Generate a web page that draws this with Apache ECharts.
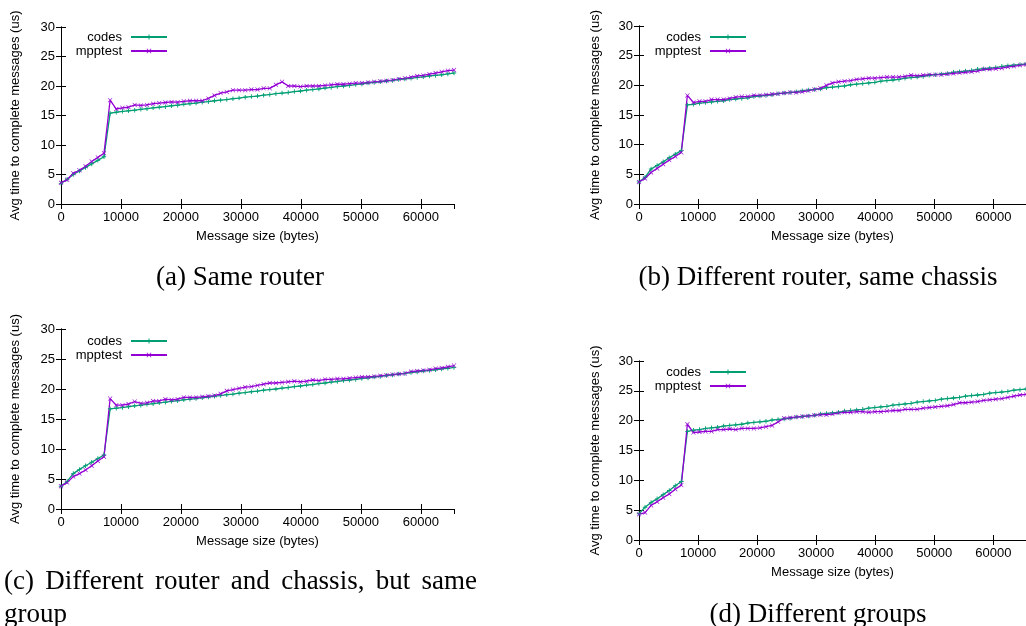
<!DOCTYPE html>
<html>
<head>
<meta charset="utf-8">
<script src="https://cdn.jsdelivr.net/npm/echarts@6/dist/echarts.min.js"></script>
<style>
html, body { margin: 0; padding: 0; background: #fff; }
#main { width: 1026px; height: 626px; }
</style>
</head>
<body>
<div id="main"></div>
<script>
// message sizes in bytes (x values)
var sizes = [0, 1024, 2048, 3072, 4096, 5120, 6144, 7168, 8192, 9216, 10240, 11264, 12288, 13312, 14336, 15360,
  16384, 17408, 18432, 19456, 20480, 21504, 22528, 23552, 24576, 25600, 26624, 27648, 28672, 29696, 30720, 31744,
  32768, 33792, 34816, 35840, 36864, 37888, 38912, 39936, 40960, 41984, 43008, 44032, 45056, 46080, 47104, 48128,
  49152, 50176, 51200, 52224, 53248, 54272, 55296, 56320, 57344, 58368, 59392, 60416, 61440, 62464, 63488, 64512,
  65536];

// (a) Same router
var codesA = [3.5, 4.2, 5.0, 5.6, 6.2, 6.8, 7.4, 8.0, 15.4,
  15.55, 15.7, 15.8, 15.9, 16.05, 16.15, 16.3, 16.4, 16.5, 16.65,
  16.75, 16.9, 17.0, 17.1, 17.25, 17.35, 17.5, 17.6, 17.7, 17.85,
  17.95, 18.1, 18.2, 18.3, 18.45, 18.55, 18.7, 18.8, 18.9, 19.05,
  19.15, 19.3, 19.4, 19.5, 19.65, 19.75, 19.9, 20.0, 20.1, 20.25,
  20.35, 20.5, 20.6, 20.7, 20.85, 20.95, 21.1, 21.2, 21.3, 21.45,
  21.55, 21.7, 21.8, 21.9, 22.05, 22.2];
var mpptestA = [3.6, 4.1, 5.2, 5.7, 6.4, 7.2, 7.9, 8.6, 17.6,
  16.1, 16.3, 16.4, 16.8, 16.7, 16.8, 17.0, 17.1, 17.2, 17.3,
  17.25, 17.4, 17.5, 17.5, 17.5, 17.9, 18.4, 18.8, 19.0, 19.3,
  19.3, 19.3, 19.4, 19.4, 19.6, 19.6, 20.2, 20.7, 20.0, 20.0,
  19.9, 20.0, 20.0, 20.0, 20.1, 20.2, 20.3, 20.3, 20.4, 20.5,
  20.5, 20.6, 20.7, 20.8, 20.9, 21.0, 21.2, 21.3, 21.5, 21.7,
  21.8, 22.0, 22.2, 22.4, 22.6, 22.7];

// (b) Different router, same chassis
var codesB = [3.7, 4.5, 5.9, 6.5, 7.1, 7.8, 8.4, 9.0, 16.7,
  16.8, 17.0, 17.1, 17.2, 17.3, 17.4, 17.6, 17.7, 17.8, 17.9,
  18.1, 18.2, 18.3, 18.4, 18.6, 18.7, 18.8, 18.9, 19.1, 19.2,
  19.3, 19.4, 19.6, 19.7, 19.8, 19.9, 20.1, 20.2, 20.3, 20.4,
  20.5, 20.7, 20.8, 20.9, 21.0, 21.2, 21.3, 21.4, 21.5, 21.7,
  21.8, 21.9, 22.0, 22.2, 22.3, 22.4, 22.5, 22.7, 22.8, 22.9,
  23.0, 23.2, 23.3, 23.4, 23.5, 23.6];
var mpptestB = [3.7, 4.3, 5.3, 6.0, 6.7, 7.4, 8.0, 8.7, 18.3,
  17.1, 17.3, 17.3, 17.6, 17.6, 17.6, 17.8, 18.0, 18.1, 18.1,
  18.3, 18.3, 18.4, 18.5, 18.6, 18.7, 18.8, 18.8, 18.9, 19.1,
  19.3, 19.5, 20.0, 20.4, 20.6, 20.7, 20.8, 21.0, 21.1, 21.2,
  21.2, 21.3, 21.4, 21.4, 21.4, 21.5, 21.7, 21.6, 21.7, 21.8,
  21.8, 21.8, 21.9, 22.0, 22.1, 22.2, 22.3, 22.4, 22.7, 22.7,
  22.8, 22.9, 23.1, 23.2, 23.4, 23.5];

// (c) Different router and chassis, but same group
var codesC = [3.8, 4.6, 5.9, 6.6, 7.2, 7.8, 8.4, 9.0, 16.7,
  16.8, 16.9, 17.05, 17.2, 17.3, 17.45, 17.55, 17.7, 17.8, 17.95,
  18.05, 18.2, 18.3, 18.4, 18.55, 18.65, 18.8, 18.9, 19.05, 19.15,
  19.3, 19.4, 19.55, 19.65, 19.8, 19.9, 20.0, 20.15, 20.25, 20.4,
  20.5, 20.65, 20.75, 20.9, 21.0, 21.15, 21.25, 21.4, 21.5, 21.6,
  21.75, 21.85, 22.0, 22.1, 22.25, 22.35, 22.5, 22.6, 22.75, 22.85,
  23.0, 23.1, 23.2, 23.35, 23.45, 23.6];
var mpptestC = [3.8, 4.4, 5.4, 5.9, 6.5, 7.2, 8.0, 8.7, 18.4,
  17.3, 17.3, 17.5, 17.9, 17.6, 17.7, 18.0, 18.0, 18.3, 18.2,
  18.3, 18.6, 18.6, 18.6, 18.7, 18.8, 18.9, 19.2, 19.7, 19.9,
  20.1, 20.3, 20.4, 20.6, 20.8, 21.0, 21.0, 21.1, 21.2, 21.3,
  21.2, 21.3, 21.5, 21.4, 21.6, 21.6, 21.7, 21.7, 21.8, 21.9,
  22.0, 22.0, 22.1, 22.2, 22.3, 22.4, 22.5, 22.6, 22.9, 23.0,
  23.1, 23.2, 23.4, 23.5, 23.7, 23.9];

// (d) Different groups
var codesD = [4.4, 5.5, 6.3, 6.9, 7.6, 8.3, 9.1, 9.8, 18.2,
  18.4, 18.5, 18.7, 18.8, 18.9, 19.1, 19.2, 19.3, 19.4, 19.6,
  19.7, 19.8, 19.9, 20.1, 20.2, 20.3, 20.4, 20.6, 20.7, 20.8,
  20.9, 21.1, 21.2, 21.3, 21.4, 21.6, 21.7, 21.8, 21.9, 22.1,
  22.2, 22.3, 22.4, 22.6, 22.7, 22.8, 22.9, 23.1, 23.2, 23.3,
  23.4, 23.6, 23.7, 23.8, 23.9, 24.1, 24.2, 24.3, 24.4, 24.6,
  24.7, 24.8, 24.9, 25.1, 25.2, 25.3];
var mpptestD = [4.3, 4.6, 5.8, 6.4, 7.1, 7.7, 8.5, 9.2, 19.4,
  18.0, 18.1, 18.2, 18.2, 18.5, 18.5, 18.6, 18.5, 18.7, 18.7,
  18.7, 18.8, 19.0, 19.2, 19.8, 20.4, 20.5, 20.6, 20.7, 20.8,
  20.9, 21.0, 21.0, 21.1, 21.3, 21.4, 21.4, 21.5, 21.5, 21.4,
  21.5, 21.5, 21.6, 21.7, 21.7, 21.9, 21.9, 21.9, 22.1, 22.2,
  22.3, 22.4, 22.5, 22.7, 23.0, 23.0, 23.1, 23.2, 23.4, 23.5,
  23.6, 23.7, 23.9, 24.1, 24.3, 24.4];

var yTicks = [0, 5, 10, 15, 20, 25, 30];
var xTickStep = 10000;
var xMax = 65536;

var SANS = '"Liberation Sans", Arial, Helvetica, sans-serif';
var SERIF = '"Liberation Serif", "Times New Roman", serif';
var GREEN = '#009e73';
var PURPLE = '#9400d3';

var panels = [
  { codes: codesA, mpptest: mpptestA, left: 61, top: 27, height: 177, legendRight: 858, legendTop: 37, yGap: 39 },
  { codes: codesB, mpptest: mpptestB, left: 639, top: 26, height: 178, legendRight: 279, legendTop: 37, yGap: 37 },
  { codes: codesC, mpptest: mpptestC, left: 61, top: 329, height: 180, legendRight: 858, legendTop: 341, yGap: 39 },
  { codes: codesD, mpptest: mpptestD, left: 639, top: 361, height: 179, legendRight: 279, legendTop: 372, yGap: 37 }
];

var plusPath = 'path://M4,0h2v4h4v2h-4v4h-2v-4h-4v-2h4z';
var crossPath = 'path://M1,0L5,4L9,0L10,1L6,5L10,9L9,10L5,6L1,10L0,9L4,5L0,1z';

function pairs(vals) {
  return sizes.map(function (x, i) { return [x, vals[i]]; });
}

var axisLine = { show: true, lineStyle: { color: '#000', width: 1 } };
var axisTick = { show: true, inside: true, length: 5, lineStyle: { color: '#000', width: 1 } };
var labelStyle = { color: '#000', fontSize: 13, fontFamily: SANS };

var grids = [], xAxes = [], yAxes = [], series = [], legends = [];
panels.forEach(function (p, i) {
  grids.push({ left: p.left, top: p.top, width: 393, height: p.height });
  xAxes.push({
    gridIndex: i, type: 'value', min: 0, max: xMax, interval: xTickStep, position: 'bottom',
    name: 'Message size (bytes)', nameLocation: 'middle', nameGap: 26,
    nameTextStyle: labelStyle,
    axisLine: axisLine, axisTick: axisTick, splitLine: { show: false },
    axisLabel: Object.assign({ margin: 7, showMaxLabel: false,
      formatter: function (v) { return v % xTickStep === 0 ? String(v) : ''; } }, labelStyle)
  });
  xAxes.push({
    gridIndex: i, type: 'value', min: 0, max: xMax, interval: xTickStep, position: 'top',
    axisLine: axisLine, axisTick: axisTick, splitLine: { show: false }, axisLabel: { show: false }
  });
  yAxes.push({
    gridIndex: i, type: 'value', min: yTicks[0], max: yTicks[yTicks.length - 1], interval: 5, position: 'left',
    name: 'Avg time to complete messages (us)', nameLocation: 'middle', nameRotate: 90, nameGap: p.yGap,
    nameTextStyle: labelStyle,
    axisLine: axisLine, axisTick: axisTick, splitLine: { show: false },
    axisLabel: Object.assign({ margin: 6 }, labelStyle)
  });
  yAxes.push({
    gridIndex: i, type: 'value', min: yTicks[0], max: yTicks[yTicks.length - 1], interval: 5, position: 'right',
    axisLine: axisLine, axisTick: axisTick, splitLine: { show: false }, axisLabel: { show: false }
  });
  series.push({
    name: 'codes', type: 'line', xAxisIndex: 2 * i, yAxisIndex: 2 * i, data: pairs(p.codes),
    symbol: plusPath, symbolSize: 4.5, showSymbol: true,
    lineStyle: { color: GREEN, width: 1.3 }, itemStyle: { color: GREEN }
  });
  series.push({
    name: 'mpptest', type: 'line', xAxisIndex: 2 * i, yAxisIndex: 2 * i, data: pairs(p.mpptest),
    symbol: crossPath, symbolSize: 4.5, showSymbol: true,
    lineStyle: { color: PURPLE, width: 1.3 }, itemStyle: { color: PURPLE }
  });
  ['codes', 'mpptest'].forEach(function (n, k) {
    legends.push({
      data: [n], orient: 'horizontal', align: 'right', right: p.legendRight, top: p.legendTop - 7 + k * 14,
      itemWidth: 36, itemHeight: 6, padding: 0, selectedMode: false,
      textStyle: { color: '#000', fontSize: 13, fontFamily: SANS, lineHeight: 14, padding: [0, 4, 0, 0] }
    });
  });
});

// captions
var capFont = '27px ' + SERIF;
var graphics = [
  { type: 'text', x: 240, y: 278, style: { text: '(a) Same router', font: capFont, fill: '#000', align: 'center', verticalAlign: 'middle' } },
  { type: 'text', x: 818, y: 278, style: { text: '(b) Different router, same chassis', font: capFont, fill: '#000', align: 'center', verticalAlign: 'middle' } },
  { type: 'text', x: 4, y: 615, style: { text: 'group', font: capFont, fill: '#000', align: 'left', verticalAlign: 'middle' } },
  { type: 'text', x: 818, y: 615, style: { text: '(d) Different groups', font: capFont, fill: '#000', align: 'center', verticalAlign: 'middle' } }
];
// justified first line of caption (c)
var words = ['(c)', 'Different', 'router', 'and', 'chassis,', 'but', 'same'];
var ctx = document.createElement('canvas').getContext('2d');
ctx.font = capFont;
var widths = words.map(function (w) { return ctx.measureText(w).width; });
var total = widths.reduce(function (a, b) { return a + b; }, 0);
var gap = (477 - 4 - total) / (words.length - 1);
var cx = 4;
words.forEach(function (w, i) {
  graphics.push({ type: 'text', x: cx, y: 582, style: { text: w, font: capFont, fill: '#000', align: 'left', verticalAlign: 'middle' } });
  cx += widths[i] + gap;
});

var chart = echarts.init(document.getElementById('main'));
chart.setOption({
  animation: false,
  backgroundColor: '#fff',
  grid: grids,
  xAxis: xAxes,
  yAxis: yAxes,
  legend: legends,
  series: series,
  graphic: graphics
});
</script>
</body>
</html>
